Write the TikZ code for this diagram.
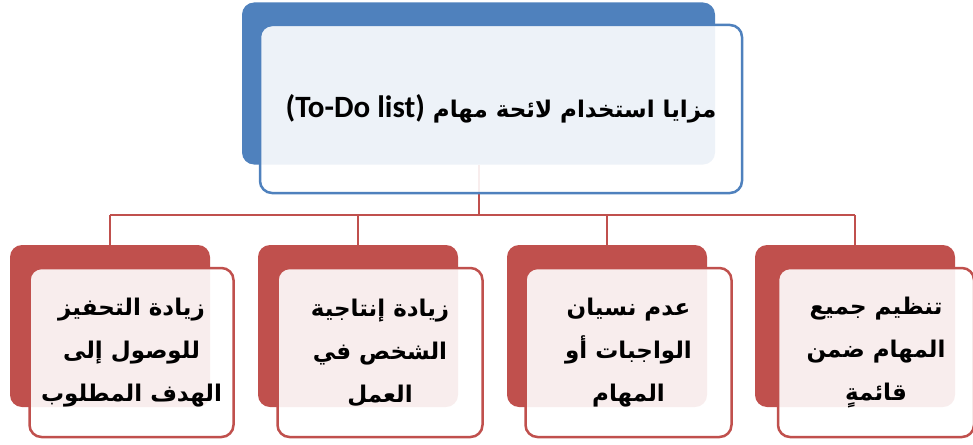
\documentclass[tikz,border=0pt]{standalone}
\usepackage{fontspec}
\setmainfont{DejaVu Sans}
\newfontfamily\arabicfont[Script=Arabic]{DejaVu Sans}
\newfontfamily\latinfont{Carlito}
\TeXXeTstate=1
\definecolor{blueA}{HTML}{4F81BD}
\definecolor{redA}{HTML}{C0504D}
\newcommand{\arl}[1]{\beginR #1\endR}
\tikzset{
  backbox/.style={rectangle, rounded corners=12pt, fill=#1, draw=none, inner sep=0pt},
  frontbox/.style={rectangle, rounded corners=12pt, draw=#1, line width=2.5pt, fill=white, fill opacity=0.9, text opacity=1, align=center, inner sep=0pt},
  link/.style={draw=redA, line width=2pt},
  childtext/.style={font=\arabicfont\bfseries\fontsize{23}{43}\selectfont},
  toptext/.style={font=\arabicfont\bfseries\fontsize{23}{28}\selectfont}
}
\begin{document}
\begin{tikzpicture}[x=1pt,y=-1pt]
\useasboundingbox (0,0) rectangle (973,444);
% top
\node[backbox=blueA, minimum width=473pt, minimum height=162pt] (topback) at (478.5,83.5) {};
% connectors
\coordinate (bus) at (478.5,215);
\node[backbox=redA, minimum width=200pt, minimum height=162pt] (b1) at (110,326) {};
\node[backbox=redA, minimum width=200pt, minimum height=162pt] (b2) at (358,326) {};
\node[backbox=redA, minimum width=200pt, minimum height=162pt] (b3) at (607,326) {};
\node[backbox=redA, minimum width=200pt, minimum height=162pt] (b4) at (855,326) {};
\coordinate (bl) at (b1.north |- bus);
\coordinate (br) at (b4.north |- bus);
\draw[link] (topback.south) -- (bus);
\draw[link] (bl) -- (br);
\draw[link] (b1.north |- bus) -- (b1.north);
\draw[link] (b2.north |- bus) -- (b2.north);
\draw[link] (b3.north |- bus) -- (b3.north);
\draw[link] (b4.north |- bus) -- (b4.north);
% front boxes
\node[frontbox=blueA, minimum width=482pt, minimum height=168pt, toptext] (topfront) at (501,109)
  {\beginR مزايا استخدام لائحة مهام \beginL{\latinfont\bfseries\fontsize{31}{34}\selectfont (To-Do list)}\endL\endR};
\node[frontbox=redA, minimum width=204pt, minimum height=169pt, childtext] (f1) at (131.5,352.5)
  {\arl{زيادة التحفيز}\\\arl{للوصول إلى}\\\arl{الهدف المطلوب}};
\node[frontbox=redA, minimum width=205pt, minimum height=169pt, childtext] (f2) at (380,352.5)
  {\arl{زيادة إنتاجية}\\\arl{الشخص في}\\\arl{العمل}};
\node[frontbox=redA, minimum width=206pt, minimum height=169pt, childtext] (f3) at (628.5,352.5)
  {\arl{عدم نسيان}\\\arl{الواجبات أو}\\\arl{المهام}};
\node[frontbox=redA, minimum width=196pt, minimum height=169pt, childtext] (f4) at (876,352.5)
  {\arl{تنظيم جميع}\\\arl{المهام ضمن}\\\arl{قائمةٍ}};
\end{tikzpicture}
\end{document}
